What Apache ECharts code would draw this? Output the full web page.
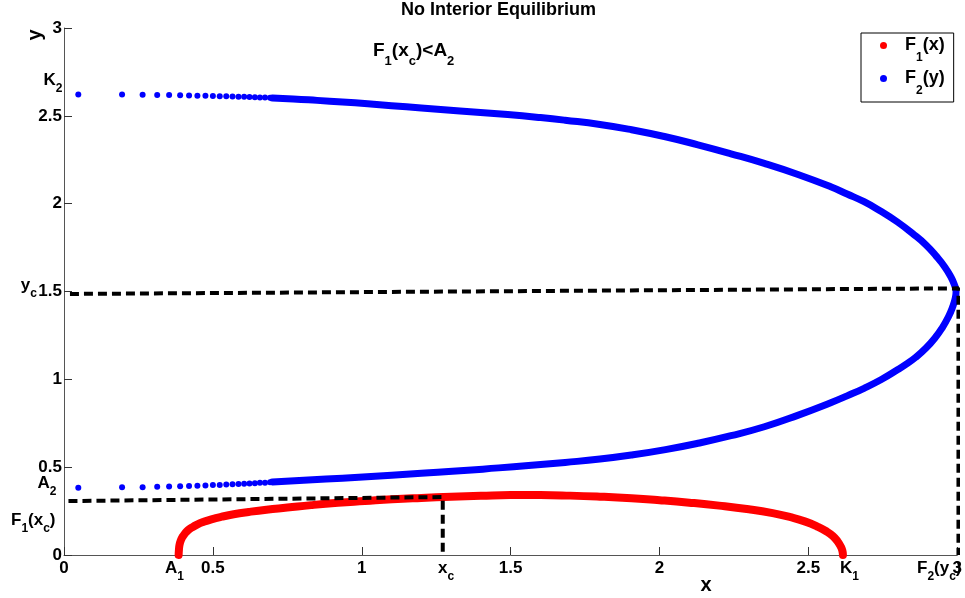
<!DOCTYPE html>
<html><head><meta charset="utf-8">
<script src="https://cdn.jsdelivr.net/npm/echarts@6/dist/echarts.min.js"></script>
<style>html,body{margin:0;padding:0;background:#fff}#c{width:965px;height:598px}</style>
</head><body><div id="c"></div>
<script>
// ---- data ----
const F1_CURVE = [[0.385,0.000],[0.386,0.030],[0.388,0.058],[0.392,0.082],[0.398,0.103],[0.406,0.122],[0.416,0.140],[0.430,0.157],[0.447,0.173],[0.468,0.188],[0.495,0.203],[0.530,0.218],[0.570,0.232],[0.620,0.245],[0.680,0.258],[0.750,0.270],[0.830,0.284],[0.920,0.297],[1.010,0.307],[1.102,0.317],[1.200,0.325],[1.300,0.332],[1.400,0.337],[1.500,0.341],[1.600,0.341],[1.700,0.338],[1.800,0.332],[1.906,0.323],[2.000,0.312],[2.100,0.298],[2.200,0.281],[2.300,0.260],[2.380,0.238],[2.440,0.215],[2.490,0.190],[2.530,0.162],[2.560,0.135],[2.582,0.108],[2.598,0.078],[2.608,0.050],[2.614,0.025],[2.616,0.000]];
const F2_DOT_X = [0.048,0.195,0.264,0.313,0.353,0.390,0.420,0.448,0.475,0.500,0.523,0.545,0.566,0.586,0.605,0.623,0.641,0.658,0.675,0.692,0.708];
const F2_DOT_Y_LOW = [0.383,0.385,0.386,0.388,0.390,0.391,0.393,0.394,0.396,0.398,0.399,0.401,0.403,0.404,0.406,0.407,0.409,0.411,0.412,0.414,0.415];
const F2_DOT_Y_HIGH = [2.622,2.621,2.620,2.619,2.618,2.617,2.616,2.615,2.614,2.613,2.612,2.611,2.610,2.609,2.608,2.607,2.606,2.605,2.604,2.603,2.602];
const F2_CURVE = [[0.700,2.601],[0.770,2.596],[0.850,2.588],[0.935,2.579],[1.020,2.569],[1.100,2.558],[1.200,2.545],[1.330,2.528],[1.490,2.507],[1.600,2.490],[1.683,2.475],[1.800,2.451],[1.906,2.421],[2.020,2.381],[2.129,2.335],[2.240,2.284],[2.352,2.229],[2.465,2.166],[2.575,2.096],[2.630,2.055],[2.687,2.011],[2.745,1.955],[2.798,1.897],[2.850,1.830],[2.895,1.765],[2.930,1.700],[2.958,1.640],[2.978,1.585],[2.990,1.540],[2.996,1.500],[2.993,1.460],[2.984,1.410],[2.970,1.355],[2.950,1.295],[2.925,1.235],[2.895,1.178],[2.860,1.125],[2.830,1.088],[2.798,1.053],[2.745,0.999],[2.687,0.949],[2.630,0.906],[2.575,0.867],[2.464,0.795],[2.352,0.730],[2.240,0.679],[2.129,0.636],[2.020,0.600],[1.906,0.569],[1.800,0.546],[1.683,0.527],[1.560,0.509],[1.460,0.496],[1.330,0.479],[1.200,0.465],[1.100,0.454],[0.990,0.443],[0.880,0.432],[0.790,0.424],[0.700,0.416]];
const GUIDE_XC = [[0.015,0.307],[1.272,0.330],[1.272,0.000]];
const GUIDE_YC = [[0.020,1.486],[3.004,1.518],[3.004,0.000]];
const SERIES_NAMES = ['F1(x)','F2(y)'];
const TITLE = 'No Interior Equilibrium';

const FONT = '"Liberation Sans", Arial, Helvetica, sans-serif';
function rich(main, sub, pad){
  return {
    m:{fontSize:main,fontWeight:'bold',lineHeight:main,verticalAlign:'top',fontFamily:FONT,color:'#000'},
    s:{fontSize:sub,fontWeight:'bold',lineHeight:sub,verticalAlign:'top',padding:[pad,0,0,0],fontFamily:FONT,color:'#000'}
  };
}
const R17 = rich(17,12,11);
const R19 = rich(19,13,14);
function lbl(text, x, y, align, r){
  return {type:'text', x:x, y:y, z:50, style:{text:text, rich:r||R17, align:align, verticalAlign:'top'}};
}

const chart = echarts.init(document.getElementById('c'), null, {renderer:'canvas'});
const axisLabel = {fontSize:17, fontWeight:'bold', color:'#000', fontFamily:FONT};
chart.setOption({
  animation:false,
  backgroundColor:'#fff',
  grid:{left:64, right:5, top:28, bottom:43, containLabel:false},
  xAxis:{type:'value', min:0, max:3, interval:0.5,
    axisLine:{show:true, onZero:false, lineStyle:{color:'#555', width:1}},
    axisTick:{show:true, inside:true, length:8, lineStyle:{color:'#333'}},
    axisLabel:Object.assign({margin:5}, axisLabel),
    splitLine:{show:false}},
  yAxis:{type:'value', min:0, max:3, interval:0.5,
    axisLine:{show:true, onZero:false, lineStyle:{color:'#555', width:1}},
    axisTick:{show:true, inside:true, length:8, lineStyle:{color:'#333'}},
    axisLabel:Object.assign({margin:2}, axisLabel),
    splitLine:{show:false}},
  legend:{
    data:[{name:SERIES_NAMES[0], icon:'circle'},{name:SERIES_NAMES[1], icon:'circle'}],
    orient:'vertical', align:'left', left:861, top:33,
    padding:[3.5,9,3.5,19], itemGap:4, itemWidth:7, itemHeight:7,
    borderColor:'#000', borderWidth:1, backgroundColor:'#fff',
    itemStyle:{borderWidth:0},
    formatter:function(n){ return n===SERIES_NAMES[0] ? '{g|}{m|F}{s|1}{m|(x)}' : '{g|}{m|F}{s|2}{m|(y)}'; },
    textStyle:{rich:{
      g:{width:13},
      m:{fontSize:18,fontWeight:'bold',lineHeight:18,verticalAlign:'top',fontFamily:FONT,color:'#000'},
      s:{fontSize:12,fontWeight:'bold',lineHeight:12,verticalAlign:'top',padding:[15,0,2,0],fontFamily:FONT,color:'#000'}
    }}
  },
  series:[
    {name:SERIES_NAMES[0], type:'line', data:F1_CURVE, symbol:'none', smooth:true, color:'#ff0000',
     lineStyle:{width:8, color:'#ff0000', cap:'round', join:'round'}, z:2},
    {name:SERIES_NAMES[1], type:'line', data:F2_CURVE, symbol:'none', smooth:true, color:'#0000ff',
     lineStyle:{width:7, color:'#0000ff', cap:'round', join:'round'}, z:2},
    {name:SERIES_NAMES[1], type:'scatter', data:F2_DOT_X.map((x,i)=>[x,F2_DOT_Y_LOW[i]]), symbol:'circle', symbolSize:6,
     itemStyle:{color:'#0000ff', opacity:1}, z:2},
    {name:SERIES_NAMES[1], type:'scatter', data:F2_DOT_X.map((x,i)=>[x,F2_DOT_Y_HIGH[i]]), symbol:'circle', symbolSize:6,
     itemStyle:{color:'#0000ff', opacity:1}, z:2},
    {name:'guide-xc', type:'line', data:GUIDE_XC, symbol:'none', clip:false, z:5,
     lineStyle:{type:[9,5], width:4, color:'#000', cap:'butt'}},
    {name:'guide-yc', type:'line', data:GUIDE_YC, symbol:'none', clip:false, z:5,
     lineStyle:{type:[9,5], width:4, color:'#000', cap:'butt'}}
  ],
  graphic:[
    {type:'text', x:498.5, y:1, z:50, style:{text:TITLE, font:'bold 18px '+FONT, fill:'#000', align:'center', verticalAlign:'top'}},
    {type:'text', x:35, y:35, rotation:Math.PI/2, z:50, style:{text:'y', font:'bold 20px '+FONT, fill:'#000', align:'center', verticalAlign:'middle'}},
    {type:'text', x:706, y:585, z:50, style:{text:'x', font:'bold 20px '+FONT, fill:'#000', align:'center', verticalAlign:'middle'}},
    lbl('{m|K}{s|2}', 62.5, 72, 'right'),
    lbl('{m|y}{s|c}', 37, 277, 'right'),
    lbl('{m|A}{s|2}', 56.5, 475, 'right'),
    lbl('{m|F}{s|1}{m|(x}{s|c}{m|)}', 55.5, 512, 'right'),
    lbl('{m|A}{s|1}', 165, 560, 'left'),
    lbl('{m|x}{s|c}', 438, 560, 'left'),
    lbl('{m|K}{s|1}', 840, 560, 'left'),
    lbl('{m|F}{s|2}{m|(y}{s|c}{m|)}', 917, 560, 'left'),
    lbl('{m|F}{s|1}{m|(x}{s|c}{m|)<A}{s|2}', 373, 41, 'left', R19)
  ]
});
</script></body></html>
